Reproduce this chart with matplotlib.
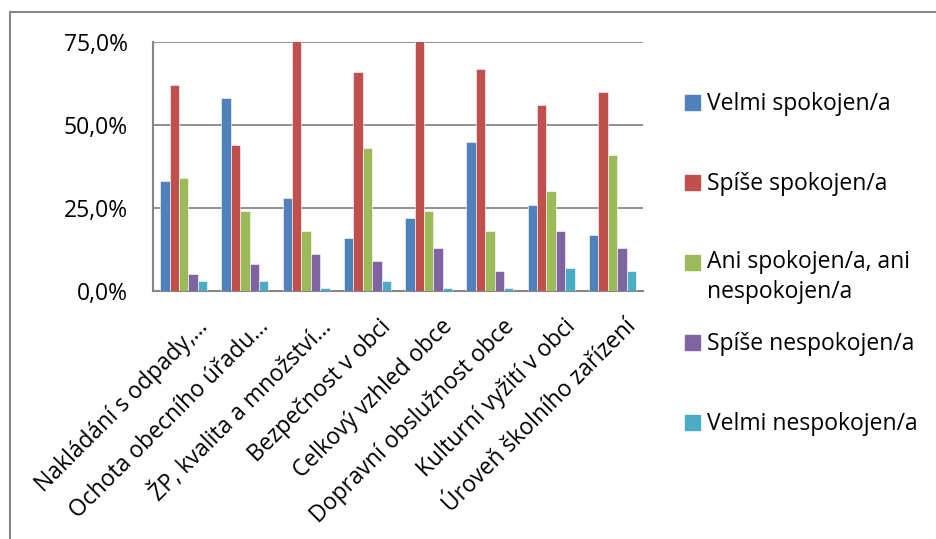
import numpy as np
import matplotlib
matplotlib.use("Agg")
import matplotlib.pyplot as plt
from matplotlib.patches import Rectangle
from matplotlib.lines import Line2D
from matplotlib.ticker import FuncFormatter, MultipleLocator
from matplotlib.transforms import ScaledTranslation

# Categories (x axis)
categories = [
    "Nakládání s odpady,…",
    "Ochota obecního úřadu…",
    "ŽP, kvalita a množství…",
    "Bezpečnost v obci",
    "Celkový vzhled obce",
    "Dopravní obslužnost obce",
    "Kulturní vyžití v obci",
    "Úroveň školního zařízení",
]

# Series values in percent
velmi_spokojen = [33, 58, 28, 16, 22, 45, 26, 17]
spise_spokojen = [62, 44, 78, 66, 78, 67, 56, 60]
ani_ani = [34, 24, 18, 43, 24, 18, 30, 41]
spise_nespokojen = [5, 8, 11, 9, 13, 6, 18, 13]
velmi_nespokojen = [3, 3, 1, 3, 1, 1, 7, 6]

series_names = [
    "Velmi spokojen/a",
    "Spíše spokojen/a",
    "Ani spokojen/a, ani\nnespokojen/a",
    "Spíše nespokojen/a",
    "Velmi nespokojen/a",
]
colors = ["#4F81BD", "#C0504D", "#9BBB59", "#8064A2", "#4BACC6"]

plt.rcParams['font.family'] = ['Open Sans', 'DejaVu Sans']
FS = 16.5

fig = plt.figure(figsize=(9.36, 5.39), dpi=100)
ax = fig.add_axes([0.1635, 0.4601, 0.5235, 0.462])

all_series = [velmi_spokojen, spise_spokojen, ani_ani, spise_nespokojen, velmi_nespokojen]
x = np.arange(len(categories))
width = 1 / 6.5

for j, (vals, col) in enumerate(zip(all_series, colors)):
    ax.bar(x + (j - 2) * width, vals, width, color=col,
           edgecolor="#ffffff", linewidth=0.4, zorder=3)

grid_col = "#868686"
ax.set_ylim(0, 75)
ax.set_xlim(-0.5, len(categories) - 0.5)
ax.yaxis.set_major_locator(MultipleLocator(25))
ax.yaxis.set_major_formatter(FuncFormatter(lambda v, p: f"{v:.1f}%".replace(".", ",")))
ax.grid(axis="y", color=grid_col, linewidth=1.3, zorder=0)
ax.tick_params(axis="y", length=0, pad=18, labelsize=FS)
ax.tick_params(axis="x", length=0, pad=17, labelsize=FS)
ax.set_xticks(x)
ax.set_xticklabels(categories, rotation=45, ha="right", va="top",
                   rotation_mode="anchor")
# Excel puts the rotated labels slightly right of the tick
shift = ScaledTranslation(12 / 100, 0, fig.dpi_scale_trans)
for lab in ax.get_xticklabels():
    lab.set_transform(lab.get_transform() + shift)

for side in ["top", "right"]:
    ax.spines[side].set_visible(False)
for side in ["left", "bottom"]:
    ax.spines[side].set_color(grid_col)
    ax.spines[side].set_linewidth(1.5)

# legend (entries every 80 px, extra lines run downward)
W, H = 936, 539
line_px = 28
for i, (name, col) in enumerate(zip(series_names, colors)):
    base = 110 + 80 * i
    fig.add_artist(Rectangle((685 / W, 1 - base / H), 15 / W, 15 / H,
                             transform=fig.transFigure, color=col))
    last_base = base + line_px * name.count("\n")
    fig.text(707 / W, 1 - last_base / H, name, va="baseline", ha="left",
             fontsize=FS, linespacing=1.34)

# outer chart border (top and left edge visible)
fig.add_artist(Line2D([10 / W, 10 / W, 1], [0, 1 - 12 / H, 1 - 12 / H],
                      transform=fig.transFigure, color=grid_col, linewidth=1.5))

fig.savefig("out.png", dpi=100)
